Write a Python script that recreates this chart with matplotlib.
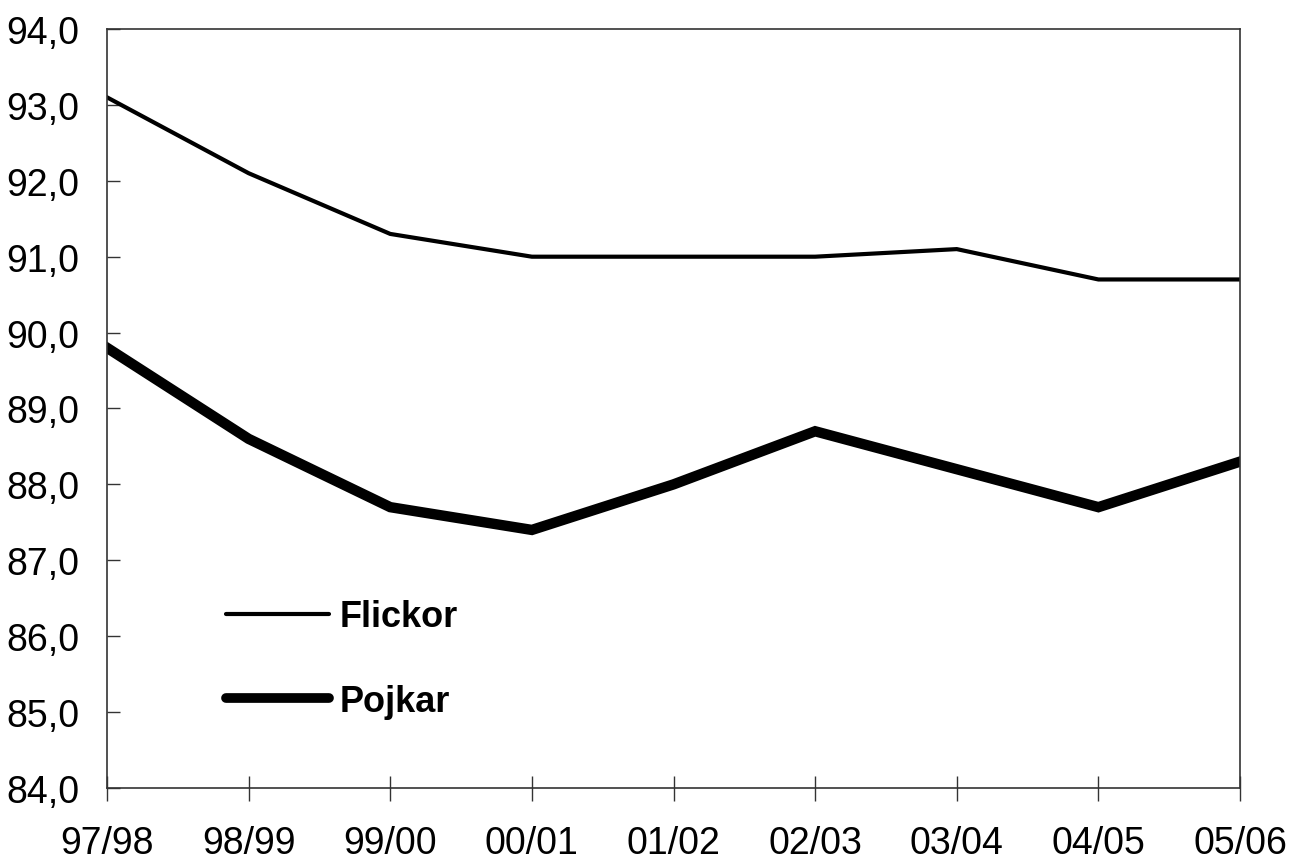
import matplotlib.pyplot as plt
from matplotlib.ticker import FuncFormatter
from matplotlib.lines import Line2D

plt.rcParams['font.family'] = ['Liberation Sans Narrow', 'Liberation Sans', 'DejaVu Sans']

years = ["97/98", "98/99", "99/00", "00/01", "01/02", "02/03", "03/04", "04/05", "05/06"]
flickor = [93.1, 92.1, 91.3, 91.0, 91.0, 91.0, 91.1, 90.7, 90.7]
pojkar = [89.8, 88.6, 87.7, 87.4, 88.0, 88.7, 88.2, 87.7, 88.3]

fig = plt.figure(figsize=(12.89, 8.62), dpi=100)
ax = fig.add_axes([0.083, 0.0847, 0.879, 0.8805])

x = range(len(years))
ax.plot(x, flickor, color="black", linewidth=3.0, solid_joinstyle="miter")
ax.plot(x, pojkar, color="black", linewidth=7.5, solid_joinstyle="miter")

ax.set_xlim(0, len(years) - 1)
ax.set_ylim(84, 94)
ax.set_yticks(range(84, 95))
ax.yaxis.set_major_formatter(FuncFormatter(lambda v, p: f"{v:.1f}".replace(".", ",")))
ax.set_xticks(list(x))
ax.set_xticklabels(years)

ax.tick_params(axis="y", direction="in", length=9, width=1, labelsize=27, pad=20, colors="#333333", labelcolor="black")
ax.tick_params(axis="x", direction="inout", length=18, width=1, labelsize=27, pad=18, colors="#333333", labelcolor="black")
for spine in ax.spines.values():
    spine.set_linewidth(1.2)
    spine.set_color("#333333")

handles = [
    Line2D([], [], color="black", linewidth=3.0, solid_capstyle="round"),
    Line2D([], [], color="black", linewidth=7.0, solid_capstyle="round"),
]
leg = ax.legend(handles, ["Flickor", "Pojkar"], loc="upper left", bbox_to_anchor=(0.105, 0.2485),
                frameon=False, handlelength=2.85, handletextpad=0.3, labelspacing=1.37,
                borderaxespad=0, borderpad=0,
                prop={"size": 26, "weight": "bold"})

fig.savefig("out.png", dpi=100)
